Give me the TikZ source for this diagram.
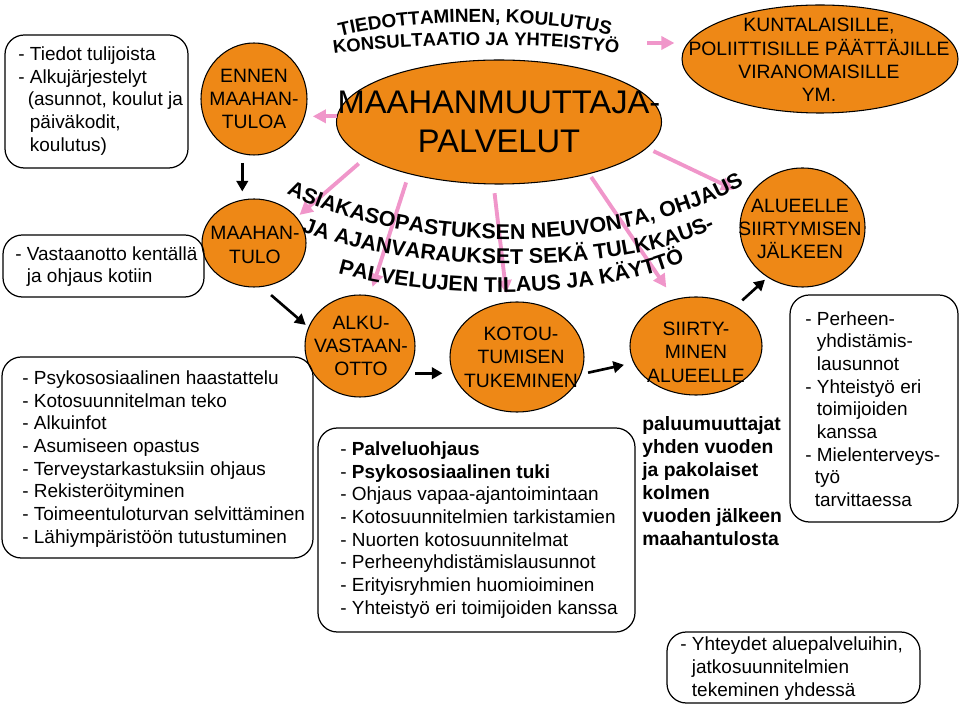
\documentclass[tikz,border=0pt]{standalone}
\usepackage{fontspec}
\setmainfont{Liberation Sans}
\usepackage{tikz}
\usetikzlibrary{arrows.meta,positioning,shapes.geometric,decorations.text}
\newlength{\pxu}\setlength{\pxu}{0.02cm}
\definecolor{ballorange}{RGB}{238,136,22}
\definecolor{arrowpink}{RGB}{240,150,202}

\begin{document}
\begin{tikzpicture}[x=\pxu, y=-\pxu,
    ball/.style={ellipse,draw,fill=ballorange,inner sep=0pt,line width=0.6pt},
    balltxt/.style={align=center,inner sep=0pt,font=\fontsize{11}{13.3}\selectfont},
    listbox/.style={draw,rounded corners=11pt,line width=0.7pt,inner sep=0pt},
    listtxt/.style={align=left,anchor=west,inner sep=0pt,font=\fontsize{10.8}{12.9}\selectfont},
    pinkarrow/.style={color=arrowpink,line width=2.2pt,-{Triangle[length=7.5pt,width=7.5pt]}},
    blackarrow/.style={line width=1.5pt,-{Triangle[length=6pt,width=6.5pt]}}
  ]
    \useasboundingbox (0,0) rectangle (960,705);

    \node[ball,minimum width=325\pxu,minimum height=124\pxu] (main) at (499,122) {};
    \node[balltxt,font=\fontsize{18.6}{22}\selectfont] (maintxt) at (main) {MAAHANMUUTTAJA-\\PALVELUT};
    \node[ball,minimum width=276\pxu,minimum height=108\pxu] (kunta) at (820,59) {};
    \node[balltxt] (kuntatxt) at (819,60) {KUNTALAISILLE,\\POLIITTISILLE PÄÄTTÄJILLE\\VIRANOMAISILLE\\YM.};
    \node[ball,minimum width=106\pxu,minimum height=112\pxu] (ennen) at (254,99) {};
    \node[balltxt] (ennentxt) at (ennen) {ENNEN\\MAAHAN-\\TULOA};
    \node[ball,minimum width=104\pxu,minimum height=88\pxu] (maahantulo) at (254,243) {};
    \node[balltxt] (maahantulotxt) at (255,245) {MAAHAN-\\TULO};
    \node[ball,minimum width=110\pxu,minimum height=102\pxu] (alku) at (360,346) {};
    \node[balltxt] (alkutxt) at (361,346) {ALKU-\\VASTAAN-\\OTTO};
    \node[ball,minimum width=134\pxu,minimum height=110\pxu] (kotou) at (517,357) {};
    \node[balltxt] (kotoutxt) at (521,357) {KOTOU-\\TUMISEN\\TUKEMINEN};
    \node[ball,minimum width=132\pxu,minimum height=98\pxu] (siirty) at (696,346) {};
    \node[balltxt] (siirtytxt) at (696,352) {SIIRTY-\\MINEN\\ALUEELLE};
    \node[ball,minimum width=125\pxu,minimum height=119\pxu] (alueelle) at (802.5,227.5) {};
    \node[balltxt] (alueelletxt) at (800,229) {ALUEELLE\\SIIRTYMISEN\\JÄLKEEN};

    \node[listbox,minimum width=183\pxu,minimum height=133\pxu] (tiedotbox) at (96.5,101.5) {};
    \node[listtxt] (tiedottxt) at (18,101) {- Tiedot tulijoista\\- Alkujärjestelyt\\\hphantom{-\,}(asunnot, koulut ja\\\hphantom{- }päiväkodit,\\\hphantom{- }koulutus)};
    \node[listbox,minimum width=201\pxu,minimum height=62\pxu] (vastaanbox) at (103.5,266) {};
    \node[listtxt] (vastaantxt) at (15,266.5) {- Vastaanotto kentällä\\\hphantom{- }ja ohjaus kotiin};
    \node[listbox,minimum width=311\pxu,minimum height=201\pxu] (psykobox) at (157.5,457.5) {};
    \node[listtxt] (psykotxt) at (22,459) {- Psykososiaalinen haastattelu\\- Kotosuunnitelman teko\\- Alkuinfot\\- Asumiseen opastus\\- Terveystarkastuksiin ohjaus\\- Rekisteröityminen\\- Toimeentuloturvan selvittäminen\\- Lähiympäristöön tutustuminen};
    \node[listbox,minimum width=317\pxu,minimum height=204\pxu] (palvelubox) at (476.5,530) {};
    \node[listtxt] (palvelutxt) at (340,530) {- \textbf{Palveluohjaus}\\- \textbf{Psykososiaalinen tuki}\\- Ohjaus vapaa-ajantoimintaan\\- Kotosuunnitelmien tarkistamien\\- Nuorten kotosuunnitelmat\\- Perheenyhdistämislausunnot\\- Erityisryhmien huomioiminen\\- Yhteistyö eri toimijoiden kanssa};
    \node[listtxt,font=\fontsize{11}{13.1}\selectfont\bfseries] (paluutxt) at (642,481) {paluumuuttajat\\yhden vuoden\\ja pakolaiset\\kolmen\\vuoden jälkeen\\maahantulosta};
    \node[listbox,minimum width=168\pxu,minimum height=227\pxu] (perhebox) at (874,408.5) {};
    \node[listtxt] (perhetxt) at (805,409) {- Perheen-\\\hphantom{- }yhdistämis-\\\hphantom{- }lausunnot\\- Yhteistyö eri\\\hphantom{- }toimijoiden\\\hphantom{- }kanssa\\- Mielenterveys-\\\hphantom{-\,}työ\\\hphantom{-\,}tarvittaessa};
    \node[listbox,minimum width=253\pxu,minimum height=71\pxu] (yhteysbox) at (793.5,667.5) {};
    \node[listtxt] (yhteystxt) at (680,668.5) {- Yhteydet aluepalveluihin,\\\hphantom{- }jatkosuunnitelmien\\\hphantom{- }tekeminen yhdessä};

    \coordinate (infoend) at (647,43);
    \draw[pinkarrow,shorten >=4pt] (infoend) -- (infoend -| kunta.west);
    \draw[pinkarrow,shorten >=3pt] (main.178) -- (main.178 -| ennen.east);
    \draw[pinkarrow,shorten <=5pt,shorten >=2pt] (main.195) -- (maahantulo.31);
    \draw[pinkarrow,shorten <=5pt,shorten >=5pt] (main.210) -- (alku.79);
    \draw[pinkarrow,shorten <=5pt,shorten >=5pt] (main.265) -- (kotou.100);
    \draw[pinkarrow,shorten <=2pt,shorten >=8pt] (main.330) -- (siirty.115);
    \draw[pinkarrow,shorten <=4pt,shorten >=9pt] (main.350) -- (alueelle.150);

    \path[decorate,decoration={text along path,text align=center,
      text={|\fontsize{10.8}{12}\selectfont\bfseries|TIEDOTTAMINEN, KOULUTUS}}]
      (330,39) .. controls (400,18) and (550,16) .. (620,38);
    \path[decorate,decoration={text along path,text align=center,
      text={|\fontsize{10.5}{12}\selectfont\bfseries|KONSULTAATIO JA YHTEISTYÖ}}]
      (326,55) .. controls (400,43) and (550,41) .. (626,55);
    \path[decorate,decoration={text along path,text align=center,
      text={|\fontsize{12.2}{14}\selectfont\bfseries|ASIAKASOPASTUKSEN NEUVONTA, OHJAUS}}]
      (272,186) .. controls (395,255) and (625,262) .. (758,176);
    \path[decorate,decoration={text along path,text align=center,
      text={|\fontsize{12.2}{14}\selectfont\bfseries|JA AJANVARAUKSET SEKÄ TULKKAUS-}}]
      (290,227) .. controls (400,273) and (620,281) .. (726,223);
    \path[decorate,decoration={text along path,text align=center,
      text={|\fontsize{12.2}{14}\selectfont\bfseries|PALVELUJEN TILAUS JA KÄYTTÖ}}]
      (324,269) .. controls (420,301) and (605,303) .. (698,255);

    \draw[blackarrow,shorten <=5pt,shorten >=4pt] (ennen.258) -- (ennen.258 |- maahantulo.north);
    \draw[blackarrow,shorten <=7pt,shorten >=2pt] (maahantulo.280) -- (alku.160);
    \draw[blackarrow,shorten <=4.5pt,shorten >=4pt] (alku.330) -- (alku.330 -| kotou.west);
    \draw[blackarrow,shorten <=4pt,shorten >=5.5pt] (kotou.345) -- (siirty.195);
    \draw[blackarrow,shorten <=5pt,shorten >=2pt] (siirty.45) -- (alueelle.235);
  \end{tikzpicture}
\end{document}
